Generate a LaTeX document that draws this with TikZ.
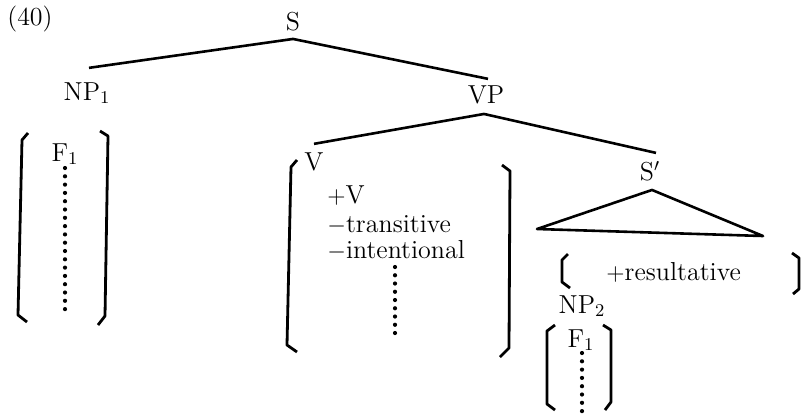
\documentclass[tikz,border=0pt]{standalone}
\begin{document}
\begin{tikzpicture}[x=0.5pt,y=-0.5pt,
  lbl/.style={inner sep=0pt, font=\fontsize{13}{15}\selectfont},
  edge/.style={line width=1.3pt},
  brk/.style={line width=1.4pt, line join=round},
  dotm/.style={fill=black}]
\useasboundingbox (0,0) rectangle (803,414);
% labels
\node[lbl,anchor=base] (ex) at (30,25) {(40)};
\node[lbl,anchor=base] (S) at (293,30) {S};
\node[lbl,anchor=base] (NP1) at (87,100) {NP$_1$};
\node[lbl,anchor=base] (VP) at (486,103) {VP};
\node[lbl,anchor=base] (V) at (314,170) {V};
\node[lbl,anchor=base] (Sp) at (650,180) {S$'$};
\node[lbl,anchor=base] (F1a) at (65,161) {F$_1$};
\node[lbl,anchor=base west] (pV) at (327,203) {$+$V};
\node[lbl,anchor=base west] (mtr) at (327,232) {$-$transitive};
\node[lbl,anchor=base west] (mint) at (327,258) {$-$intentional};
\node[lbl,anchor=base west] (pres) at (606,280) {$+$resultative};
\node[lbl,anchor=base] (NP2) at (582,313) {NP$_2$};
\node[lbl,anchor=base] (F1b) at (581,347) {F$_1$};
% tree edges
\draw[edge] ([yshift=-4pt]S.south) -- ([yshift=7pt,xshift=1pt]NP1.north);
\draw[edge] ([yshift=-4pt]S.south) -- ([yshift=3pt,xshift=1pt]VP.north);
\draw[edge] ([yshift=-5pt,xshift=-1pt]VP.south) -- ([yshift=4pt]V.north);
\draw[edge] ([yshift=-5pt,xshift=-1pt]VP.south) -- ([yshift=4pt,xshift=3pt]Sp.north);
% triangle under S'
\coordinate (apex) at ([yshift=-4.5pt,xshift=1pt]Sp.south);
\coordinate (tl) at (537,229);
\coordinate (tr) at (763,236);
\draw[edge,line join=round] (tl) -- (apex) -- (tr) -- cycle;
% brackets
\draw[brk] (28,133) -- (22,140) -- (18,315) -- (27,322);
\draw[brk] (100,131) -- (108,136) -- (105,316) -- (98,325);
\draw[brk] (297,160) -- (291,167) -- (287,345) -- (297,352);
\draw[brk] (502,165) -- (510,171) -- (509,348) -- (500,357);
\draw[brk] (568,254) -- (562,260) -- (562,282) -- (570,288);
\draw[brk] (792,253) -- (799,258) -- (799,289) -- (793,294);
\draw[brk] (555,325) -- (547,331) -- (547,404) -- (555,410);
\draw[brk] (603,325) -- (611,330) -- (611,402) -- (605,410);
% dots
\foreach \i in {0,...,17} \fill[dotm] (65,168+8.3*\i) circle[radius=1.05pt];
\foreach \i in {0,...,8} \fill[dotm] (395,267+8.25*\i) circle[radius=1.05pt];
\foreach \i in {0,...,7} \fill[dotm] (582,353+8.3*\i) circle[radius=1.05pt];
\end{tikzpicture}
\end{document}
